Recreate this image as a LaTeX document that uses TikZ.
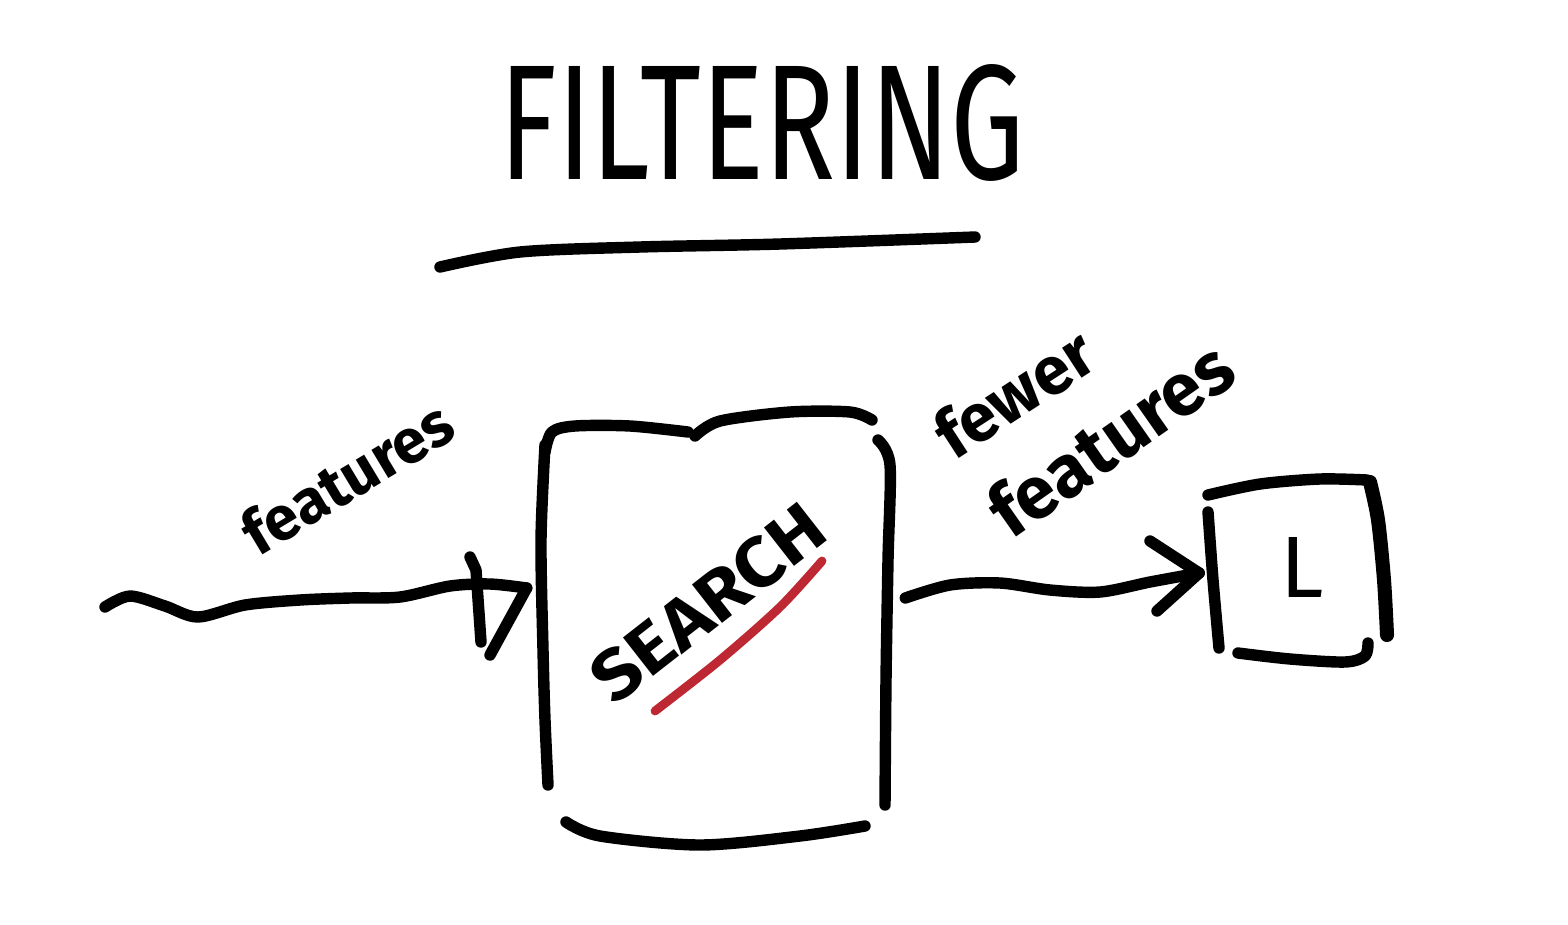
\documentclass[tikz,border=0pt]{standalone}
\usepackage{fontspec}
\usepackage{graphicx}
\setmainfont{Fira Sans}
\usetikzlibrary{calc}
\definecolor{redink}{RGB}{190,40,50}
\begin{document}
\begin{tikzpicture}[x=0.02cm,y=-0.02cm,
  ink/.style={line width=6.5pt, line cap=round, line join=round, black},
  hand/.style={inner sep=0pt, font=\bfseries}]
\useasboundingbox[fill=white] (0,0) rectangle (1568,924);

% title
\node[inner sep=0pt, font=\mdseries] (title) at (762,123) {\resizebox{10.5cm}{2.3cm}{FILTERING}};
\draw[ink] plot[smooth] coordinates {(440,267) (520,252) (640,247) (780,244) (975,237)};

% search box (anchor node + hand outline)
\node[minimum width=6.8cm, minimum height=8.2cm] (search) at (715,625) {};
\draw[ink] plot[smooth] coordinates {(545,452) (552,432) (575,426) (630,426) (688,432)};
\draw[ink] plot[smooth] coordinates {(695,436) (720,421) (790,412) (850,412) (872,420)};
\draw[ink] plot[smooth] coordinates {(878,440) (890,465) (888,560) (886,680) (885,805)};
\draw[ink] plot[smooth] coordinates {(545,445) (541,540) (543,650) (545,720) (548,785)};
\draw[ink] plot[smooth] coordinates {(566,822) (600,836) (700,845) (800,836) (865,826)};
\node[hand, rotate=38] (searchtxt) at (708,603) {\resizebox{5.5cm}{1.0cm}{SEARCH}};
\draw[line width=5pt, line cap=round, redink] plot[smooth] coordinates {(655,711) (720,660) (780,607) (822,561)};

% input connector
\coordinate (instart) at (105,607);
\coordinate (intip) at ([shift={(-18,-37)}]search.west);
\draw[ink] plot[smooth] coordinates {(instart) (130,596) (165,606) (198,617) (245,605) (300,600) (350,598) (400,597) (450,586) (490,584) (intip)};
\draw[ink] (470,557) -- (476,570) -- (481,642);
\draw[ink] (intip) -- (490,655);
\node[hand, rotate=31] (feat1) at (347,477) {\resizebox{4.7cm}{!}{features}};

% L box
\node[minimum width=3.5cm, minimum height=3.6cm] (lbox) at (1297,570) {};
\draw[ink] plot[smooth] coordinates {(1208,495) (1260,484) (1320,479) (1367,480)};
\draw[line width=8pt, line cap=round] plot[smooth] coordinates {(1370,482) (1378,520) (1384,580) (1387,635)};
\draw[ink] plot[smooth] coordinates {(1208,512) (1213,580) (1219,648)};
\draw[ink] plot[smooth] coordinates {(1238,653) (1290,659) (1345,662) (1365,656) (1368,643)};
\node[inner sep=0pt] (ltxt) at (1302,567) {\resizebox{!}{1.2cm}{L}};

% output connector
\coordinate (outstart) at ([shift={(20,-27)}]search.east);
\coordinate (outtip) at ([shift={(-10,3)}]lbox.west);
\draw[ink] plot[smooth] coordinates {(outstart) (950,585) (1000,583) (1050,590) (1100,592) (1150,582) (outtip)};
\draw[ink] (1150,541) -- (outtip) -- (1157,611);
\node[hand, rotate=33] (fewer) at (1014,393) {\resizebox{3.5cm}{!}{fewer}};
\node[hand, rotate=35] (feat2) at (1110,438) {\resizebox{5.6cm}{!}{features}};
\end{tikzpicture}
\end{document}
